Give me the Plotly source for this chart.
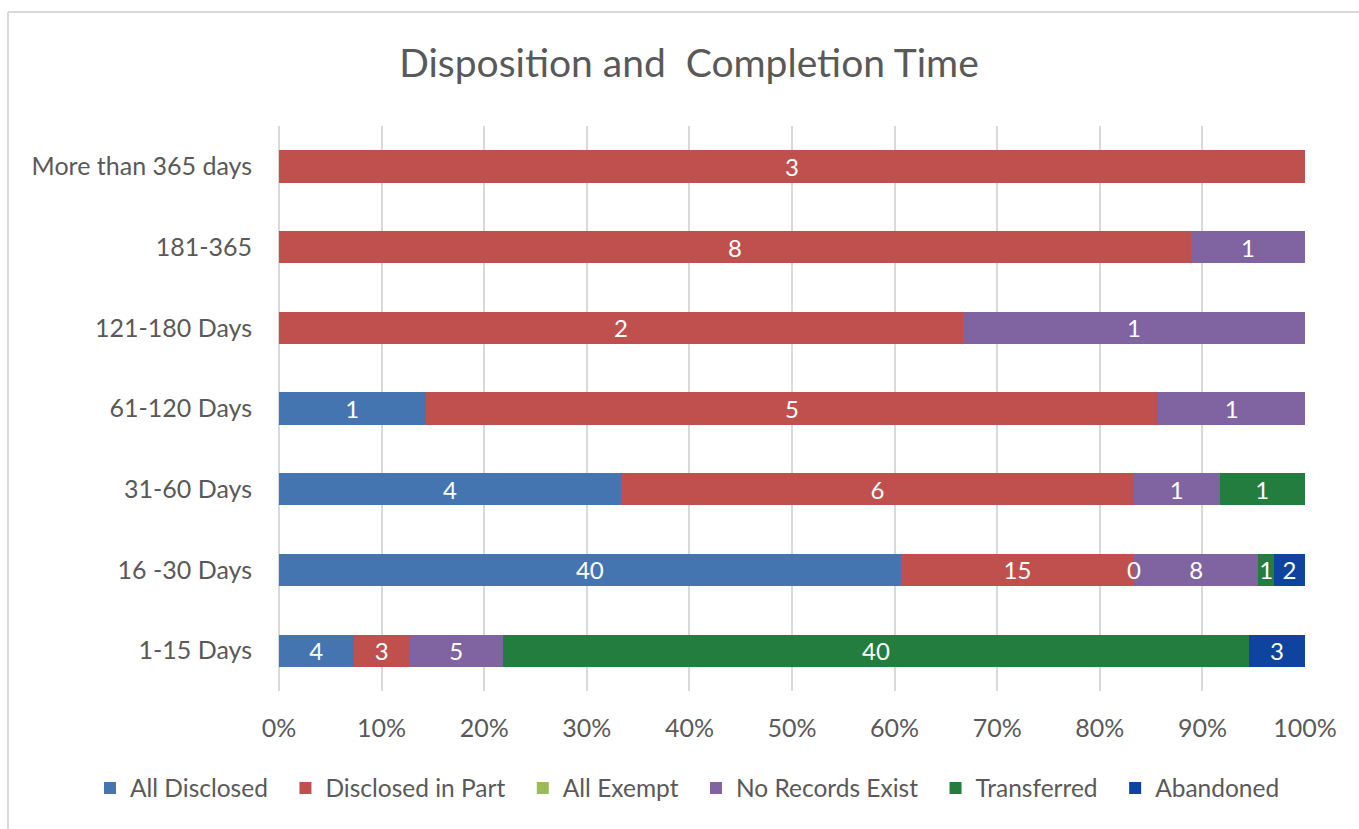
import plotly.graph_objects as go

categories = ["1-15 Days", "16 -30 Days", "31-60 Days", "61-120 Days",
              "121-180 Days", "181-365", "More than 365 days"]
series_names = ["All Disclosed", "Disclosed in Part", "All Exempt",
                "No Records Exist", "Transferred", "Abandoned"]
all_disclosed = [4, 40, 4, 1, None, None, None]
disclosed_in_part = [3, 15, 6, 5, 2, 8, 3]
all_exempt = [None, 0, None, None, None, None, None]
no_records_exist = [5, 8, 1, 1, 1, 1, None]
transferred = [40, 1, 1, None, None, None, None]
abandoned = [3, 2, None, None, None, None, None]
tick_vals = [0, 10, 20, 30, 40, 50, 60, 70, 80, 90, 100]
tick_text = ["0%", "10%", "20%", "30%", "40%", "50%", "60%", "70%", "80%", "90%", "100%"]

series_values = [all_disclosed, disclosed_in_part, all_exempt,
                 no_records_exist, transferred, abandoned]
colors = ["#4575B0", "#C0504D", "#9BBB59", "#8064A2", "#237D3E", "#0E449E"]

FONT = "Lato"
GREY = "#595959"

fig = go.Figure()
for name, vals, col in zip(series_names, series_values, colors):
    txt = [("" if (v is None or v == 0) else str(v)) for v in vals]
    fig.add_trace(go.Bar(
        y=categories, x=[0 if v is None else v for v in vals],
        name=name + "\u00a0\u00a0",
        orientation="h", marker=dict(color=col, line=dict(width=0)),
        text=txt, textposition="inside", insidetextanchor="middle",
        textangle=0, constraintext="none",
        textfont=dict(color="white", size=24, family=FONT),
        hoverinfo="skip",
    ))

# zero labels (zero-width segments) placed via data coordinates
totals = [sum((s[i] or 0) for s in series_values) for i in range(len(categories))]
for i, cat in enumerate(categories):
    for k, s in enumerate(series_values):
        if s[i] == 0:
            cum = sum((series_values[j][i] or 0) for j in range(k))
            fig.add_annotation(x=cum / totals[i] * 100, y=cat, text="0",
                               showarrow=False, xref="x", yref="y",
                               font=dict(color="white", size=24, family=FONT))

fig.update_layout(
    barmode="stack", barnorm="percent", bargap=0.6,
    width=1359, height=829,
    margin=dict(l=279, r=54, t=126, b=138, autoexpand=False),
    paper_bgcolor="white", plot_bgcolor="white",
    font=dict(family=FONT, color=GREY, size=25),
    title=dict(text="Disposition and\u00a0 Completion Time",
               x=0.3996, xref="paper", xanchor="center",
               y=1 - 63 / 829, yref="container", yanchor="middle",
               font=dict(size=39, color=GREY, family=FONT)),
    legend=dict(orientation="h", xref="paper", x=(90 - 279) / 1026, xanchor="left",
                yref="paper", y=(691 - 788) / 565, yanchor="middle",
                traceorder="normal",
                font=dict(size=24.5, color=GREY, family=FONT)),
    showlegend=True,
    shapes=[
        dict(type="line", xref="paper", yref="paper", x0=-0.2641, x1=1.06,
             y0=1.2018, y1=1.2018, line=dict(color="#D9D9D9", width=2)),
        dict(type="line", xref="paper", yref="paper", x0=-0.2641, x1=-0.2641,
             y0=1.2018, y1=-0.26, line=dict(color="#D9D9D9", width=2)),
    ],
)
fig.update_xaxes(range=[0, 100], tickvals=tick_vals, ticktext=tick_text,
                 showgrid=True, gridcolor="#D9D9D9", gridwidth=2,
                 zeroline=True, zerolinecolor="#D9D9D9", zerolinewidth=2,
                 showline=False, ticks="", ticklabelstandoff=20,
                 tickfont=dict(size=25, color=GREY, family=FONT))
fig.update_yaxes(type="category", categoryorder="array", categoryarray=categories,
                 showgrid=False, zeroline=False, showline=False, ticks="",
                 ticklabelstandoff=26,
                 tickfont=dict(size=25, color=GREY, family=FONT))

fig.write_html("out.html")
